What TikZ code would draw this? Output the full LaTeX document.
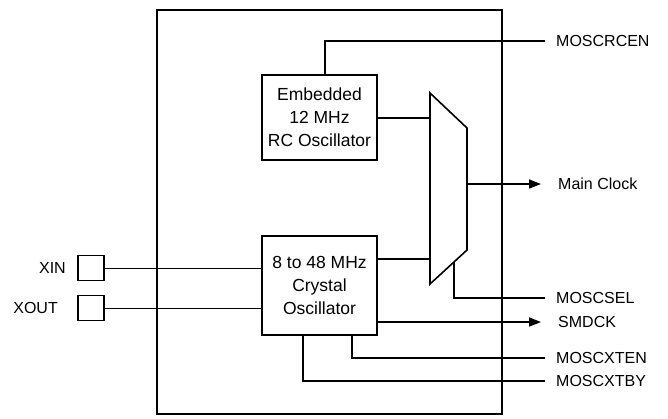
\documentclass[tikz,border=0pt]{standalone}
\usepackage{fontspec}
\setmainfont{Liberation Sans}
\usetikzlibrary{arrows.meta}
\begin{document}
\begin{tikzpicture}[x=1pt,y=-1pt,
  thk/.style={line width=1.6pt},
  thn/.style={line width=0.8pt},
  arr/.style={thk,-{Triangle[length=12pt,width=9pt]}},
  lbl/.style={anchor=west,font=\fontsize{16}{18}\selectfont,inner sep=0pt},
  blk/.style={draw,thk,minimum width=115pt,align=center,font=\fontsize{17.5}{23}\selectfont,inner sep=0pt},
  pin/.style={draw,thk,minimum width=26pt,minimum height=25pt,inner sep=0pt}]
\useasboundingbox (0,0) rectangle (668,418);
\node[draw,thk,minimum width=345pt,minimum height=404pt,inner sep=0pt] (chip) at (329.5,212) {};
\node[blk,minimum height=85pt] (rc) at (319.5,117.5) {Embedded\\12 MHz\\RC Oscillator};
\node[blk,minimum height=99pt] (xt) at (319.5,285.5) {8 to 48 MHz\\Crystal\\Oscillator};
\coordinate (m1) at (430,93); \coordinate (m2) at (467,128);
\coordinate (m3) at (467,250); \coordinate (m4) at (430,284);
\draw[thk] (m1) -- (m2) -- (m3) -- (m4) -- cycle;
\node[pin] (xin) at (91,268) {};
\node[pin] (xout) at (91,308) {};
\node[lbl,anchor=east] (lxin) at (66,268) {XIN};
\node[lbl,anchor=east] (lxout) at (58,308) {XOUT};
\draw[thn] (xin.east) -- (xin.east -| xt.west);
\draw[thn] (xout.east) -- (xout.east -| xt.west);
\node[lbl] (l1) at (556,41) {MOSCRCEN};
\node[lbl] (l2) at (558,184) {Main Clock};
\node[lbl] (l3) at (556,298) {MOSCSEL};
\node[lbl] (l4) at (558,322) {SMDCK};
\node[lbl] (l5) at (556,358) {MOSCXTEN};
\node[lbl] (l6) at (556,381) {MOSCXTBY};
\coordinate (e1) at ([xshift=-11pt]l1.west);
\coordinate (e3) at ([xshift=-11pt]l3.west);
\coordinate (e5) at ([xshift=-11pt]l5.west);
\coordinate (e6) at ([xshift=-11pt]l6.west);
\draw[thk] (325,75) -- (325,41) -- (e1);
\draw[thk] (377,118) -- (430,118);
\draw[thk] (377,259) -- (430,259);
\draw[arr] (467,184) -- (541,184);
\draw[thk] (454,262) -- (454,298) -- (e3);
\draw[arr] (377,322) -- (541,322);
\draw[thk] (352,335) -- (352,358) -- (e5);
\draw[thk] (303,335) -- (303,381) -- (e6);
\end{tikzpicture}
\end{document}
